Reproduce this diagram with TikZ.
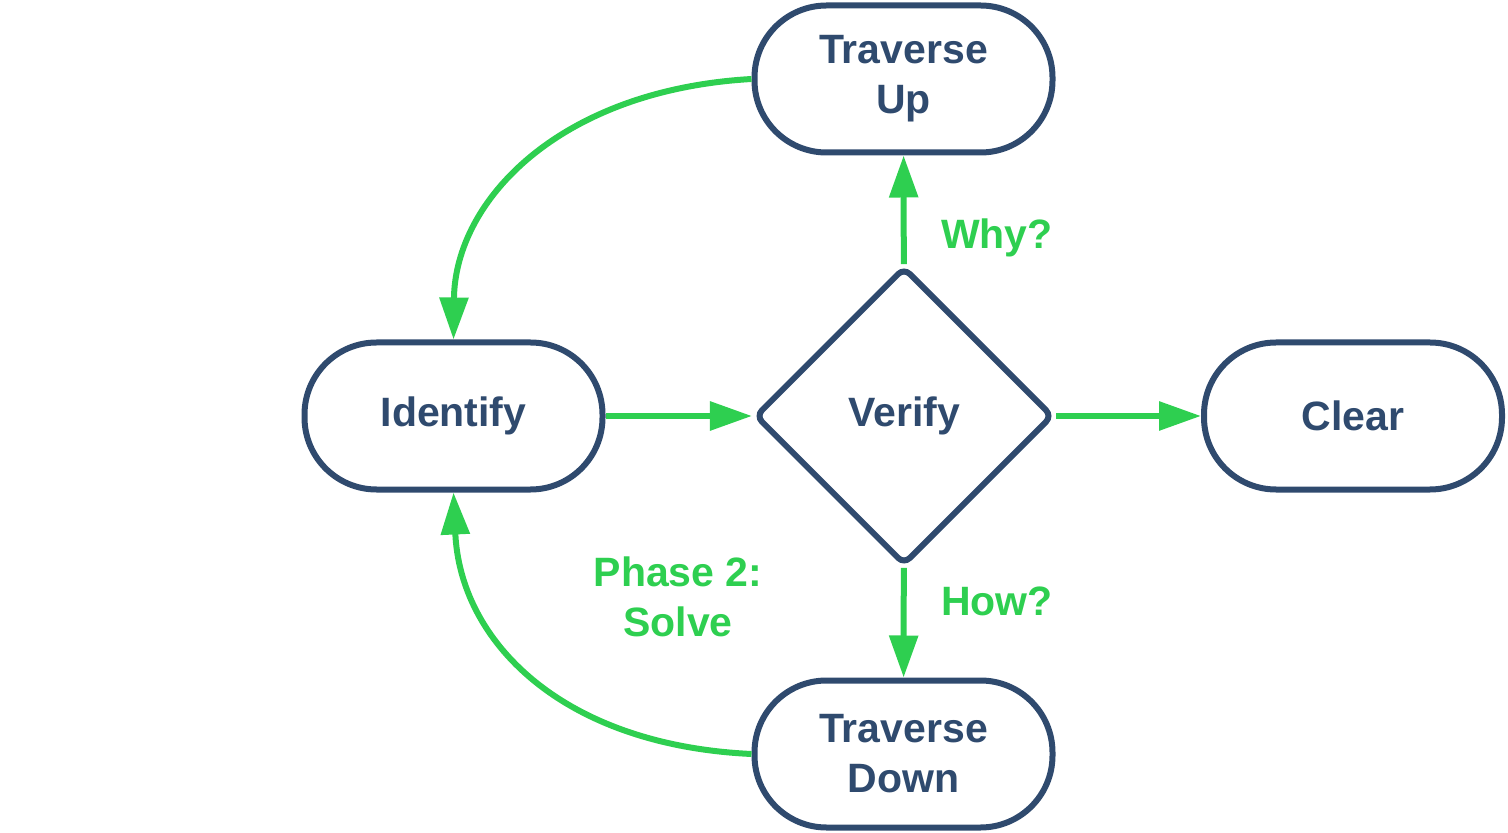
\documentclass[tikz,border=0pt]{standalone}
\usepackage{fontspec}
\setmainfont{Liberation Sans}
\usetikzlibrary{positioning, shapes.geometric, arrows.meta}

\definecolor{navy}{HTML}{2F4A6E}
\definecolor{leaf}{HTML}{2ECF50}

\begin{document}
\begin{tikzpicture}[
				x=0.5pt, y=-0.5pt,
				pill/.style={draw=navy, line width=3pt, rounded corners=36pt,
					minimum width=149pt, minimum height=73.5pt, align=center,
					text=navy, font=\fontsize{20.5}{25}\selectfont\bfseries},
				check/.style={diamond, draw=navy, line width=3pt, rounded corners=4pt,
					minimum width=149pt, minimum height=149pt, inner sep=0pt,
					text=navy, font=\fontsize{20.5}{25}\selectfont\bfseries},
				flow/.style={draw=leaf, line width=3pt, -{Triangle[length=21pt,width=14pt]}},
				tag/.style={text=leaf, align=center, font=\fontsize{20.5}{25}\selectfont\bfseries}
				]
				\useasboundingbox (0,0) rectangle (1508,833);
				\node[pill] (up) at (903.5,79) {Traverse\\Up};
				\node[pill] (ident) at (453.5,416) {Identify};
				\node[check] (verify) at (904,416) {Verify};
				\node[pill] (clear) at (1353,416) {Clear};
				\node[pill] (down) at (903.5,754) {Traverse\\Down};
				\draw[flow] (ident) -- (verify);
				\draw[flow] (verify) -- (clear);
				\draw[flow] (verify) -- (up);
				\draw[flow] (verify) -- (down);
				\draw[flow] (up.west) .. controls (560,90) and (455,200) .. (ident.north);
				\draw[flow] (down.west) .. controls (560,745) and (460,640) .. (ident.south);
				\node[tag] (why) at (997,238) {Why?};
				\node[tag] (how) at (997,601) {How?};
				\node[tag] (phase) at (678,597) {Phase 2:\\Solve};
			\end{tikzpicture}
\end{document}
